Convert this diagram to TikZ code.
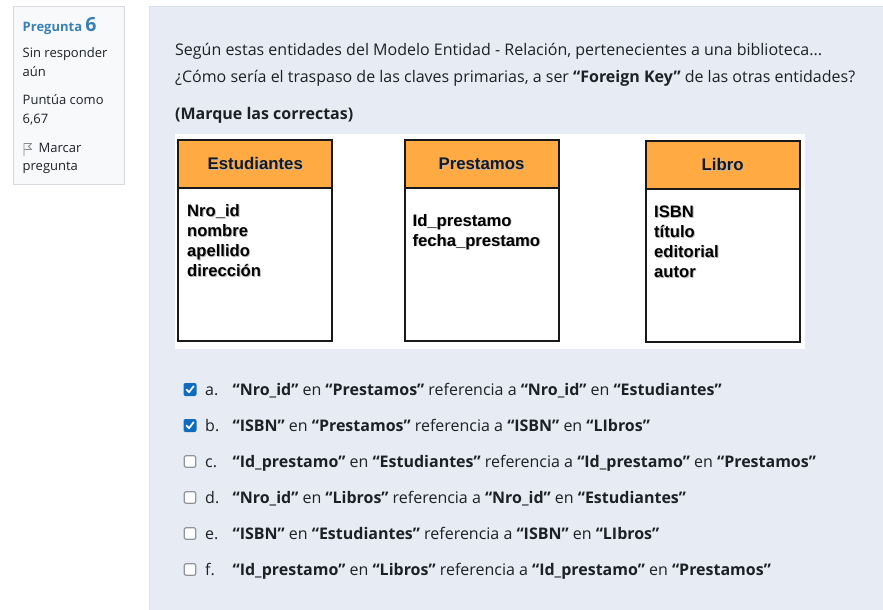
\documentclass[tikz,border=0pt]{standalone}
\usepackage{fontspec}
\setmainfont{Open Sans}
\newfontfamily\arialfont{Liberation Sans}
\definecolor{sidebg}{RGB}{248,249,250}
\definecolor{sideborder}{RGB}{215,219,224}
\definecolor{mainbg}{RGB}{231,235,244}
\definecolor{mainborder}{RGB}{218,222,232}
\definecolor{qblue}{RGB}{56,128,182}
\definecolor{txt}{RGB}{29,33,37}
\definecolor{hdrorange}{RGB}{255,170,66}
\definecolor{chkblue}{RGB}{15,108,191}
\definecolor{chkgray}{RGB}{143,149,158}
\newcommand{\shtext}[1]{\rlap{\kern0.9pt\raisebox{-0.9pt}{\textcolor{black!28}{#1}}}#1}
\tikzset{
  uitext/.style={anchor=base west, inner sep=0pt, text=txt, font=\fontsize{16}{18}\selectfont},
  sidetext/.style={anchor=base west, inner sep=0pt, text=txt, font=\fontsize{13}{15}\selectfont},
  hdrbox/.style={draw=black!90, line width=2pt, fill=hdrorange, minimum width=154pt, minimum height=48pt, anchor=north west, inner sep=0pt, outer sep=0pt, text=black!90, font=\arialfont\bfseries\fontsize{16.8}{18}\selectfont},
  bodybox/.style={draw=black!90, line width=2pt, fill=white, minimum width=154pt, minimum height=153pt, anchor=north west, inner sep=0pt, outer sep=0pt},
  attr/.style={anchor=base west, inner sep=0pt, align=left, text=black, font=\arialfont\bfseries\fontsize{16.6}{20}\selectfont},
  chkon/.style={fill=chkblue, rounded corners=2pt},
  chkoff/.style={draw=chkgray, fill=white, line width=1.2pt, rounded corners=2pt},
  tick/.style={draw=white, line width=1.7pt, line cap=round, line join=round},
}
\begin{document}
\begin{tikzpicture}[x=1pt,y=-1pt]
\useasboundingbox (0,0) rectangle (883,610);
\fill[white] (0,0) rectangle (883,610);
% sidebar
\draw[fill=sidebg, draw=sideborder, line width=1pt] (13.5,6.5) rectangle (124,184);
\node[anchor=base west, inner sep=0pt, text=qblue, font=\bfseries\fontsize{13}{15}\selectfont] (qlabel) at (22.5,32) {Pregunta \fontsize{19.5}{20}\selectfont 6};
\node[sidetext] (s1) at (22.5,58) {Sin responder};
\node[sidetext] (s2) at (22.5,76) {aún};
\node[sidetext] (s3) at (22.5,104) {Puntúa como};
\node[sidetext] (s4) at (22.5,123) {6,67};
\draw[black!45, line width=0.9pt, line join=round] (24,156) -- (24,143.5) -- (31.5,143.5) -- (28.5,146.5) -- (31.5,149.5) -- (24,149.5);
\node[sidetext] (s5) at (38.5,152) {Marcar};
\node[sidetext] (s6) at (22.5,170) {pregunta};
% main panel
\draw[fill=mainbg, draw=mainborder, line width=1pt] (149.5,6.5) rectangle (890,620);
\node[uitext] (q1) at (175,56) {Según estas entidades del Modelo Entidad - Relación, pertenecientes a una biblioteca...};
\node[uitext] (q2) at (175,82) {¿Cómo sería el traspaso de las claves primarias, a ser \textbf{“Foreign Key”} de las otras entidades?};
\node[uitext, font=\bfseries\fontsize{16}{18}\selectfont] (q3) at (175,119) {(Marque las correctas)};
% diagram image
\fill[white] (174.5,133.5) rectangle (805,348.5);
\node[bodybox] (estb) at (178.3,188) {};
\node[hdrbox] (esth) at (178.3,140) {\shtext{Estudiantes}};
\node[attr] (esta) at (187,276.5) {\shtext{Nro\_id}\\\shtext{nombre}\\\shtext{apellido}\\\shtext{dirección}};
\node[bodybox] (preb) at (404.5,188) {};
\node[hdrbox] (preh) at (404.5,140) {\shtext{Prestamos}};
\node[attr] (prea) at (412.5,246) {\shtext{Id\_prestamo}\\\shtext{fecha\_prestamo}};
\node[bodybox] (libb) at (645.7,189) {};
\node[hdrbox] (libh) at (645.7,141) {\shtext{Libro}};
\node[attr] (liba) at (654,277.5) {\shtext{ISBN}\\\shtext{título}\\\shtext{editorial}\\\shtext{autor}};
% options
\fill[chkon] (183.5,383) rectangle (196.5,396);
\draw[tick] (186.5,389.5) -- (189,392.3) -- (193.6,386.2);
\node[uitext] (la) at (205,395) {a.};
\node[uitext] (oa) at (232.5,395) {\textbf{“Nro\_id”} en \textbf{“Prestamos”} referencia a \textbf{“Nro\_id”} en \textbf{“Estudiantes”}};
\fill[chkon] (183.5,419) rectangle (196.5,432);
\draw[tick] (186.5,425.5) -- (189,428.3) -- (193.6,422.2);
\node[uitext] (lb) at (205,431) {b.};
\node[uitext] (ob) at (232.5,431) {\textbf{“ISBN”} en \textbf{“Prestamos”} referencia a \textbf{“ISBN”} en \textbf{“LIbros”}};
\draw[chkoff] (184.2,455.7) rectangle (195.8,467.3);
\node[uitext] (lc) at (205,467) {c.};
\node[uitext] (oc) at (232.5,467) {\textbf{“Id\_prestamo”} en \textbf{“Estudiantes”} referencia a \textbf{“Id\_prestamo”} en \textbf{“Prestamos”}};
\draw[chkoff] (184.2,491.7) rectangle (195.8,503.3);
\node[uitext] (ld) at (205,503) {d.};
\node[uitext] (od) at (232.5,503) {\textbf{“Nro\_id”} en \textbf{“Libros”} referencia a \textbf{“Nro\_id”} en \textbf{“Estudiantes”}};
\draw[chkoff] (184.2,527.7) rectangle (195.8,539.3);
\node[uitext] (le) at (205,539) {e.};
\node[uitext] (oe) at (232.5,539) {\textbf{“ISBN”} en \textbf{“Estudiantes”} referencia a \textbf{“ISBN”} en \textbf{“LIbros”}};
\draw[chkoff] (184.2,563.7) rectangle (195.8,575.3);
\node[uitext] (lf) at (205,575) {f.};
\node[uitext] (of) at (232.5,575) {\textbf{“Id\_prestamo”} en \textbf{“Libros”} referencia a \textbf{“Id\_prestamo”} en \textbf{“Prestamos”}};
\end{tikzpicture}
\end{document}
